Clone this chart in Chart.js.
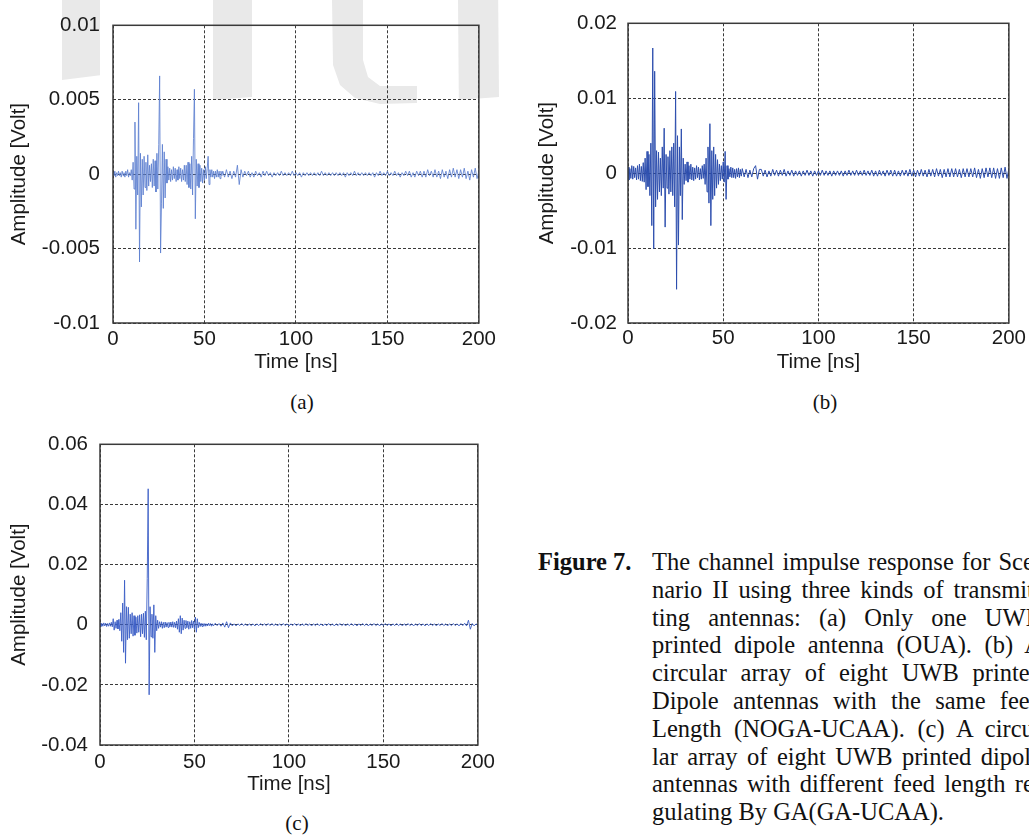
<!DOCTYPE html>
<html>
<head>
<meta charset="utf-8">
<script src="https://cdn.jsdelivr.net/npm/chart.js@4.4.1/dist/chart.umd.min.js"></script>
<style>
  html, body { margin: 0; padding: 0; background: #fff; width: 1029px; height: 837px; overflow: hidden; }
  .wm { position: absolute; background: #e9e9e9; z-index: 0; }
  canvas { position: absolute; z-index: 1; }
  .sub { position: absolute; z-index: 2; font: 21px "Liberation Serif", "Times New Roman", serif; color: #111; transform: translate(-50%, -50%); }
  #caption { position: absolute; left: 538px; top: 548px; font: 24.5px/27.8px "Liberation Serif", "Times New Roman", serif; color: #111; z-index: 2; }
  #caption .fig { position: absolute; left: 0; top: 0; font-weight: bold; white-space: nowrap; }
  #caption .lines { position: absolute; left: 114px; top: 0; width: 390px; }
  #caption .lines div { text-align: justify; text-align-last: justify; white-space: nowrap; }
  #caption .lines div.last { text-align-last: left; }
</style>
</head>
<body>
<div class="wm" style="left:62px;top:0;width:38px;height:80px;clip-path:polygon(0 0,100% 0,100% 94%,0 100%)"></div>
<div class="wm" style="left:213px;top:0;width:39px;height:100px;clip-path:polygon(0 0,100% 0,100% 97%,0 100%)"></div>
<div class="wm" style="left:332px;top:0;width:85px;height:104px;clip-path:polygon(0 0,31px 0,31px 60px,36px 77px,48px 86px,85px 86px,85px 103px,48px 104px,23px 98px,8px 85px,1px 65px)"></div>
<div class="wm" style="left:458px;top:0;width:41px;height:100px;clip-path:polygon(0 0,98% 0,100% 97%,2% 100%)"></div>

<canvas id="chartA" width="500" height="380" style="left:0;top:0"></canvas>
<canvas id="chartB" width="509" height="380" style="left:520px;top:0"></canvas>
<canvas id="chartC" width="500" height="380" style="left:0;top:420px"></canvas>

<div class="sub" style="left:302px;top:402px">(a)</div>
<div class="sub" style="left:825px;top:402px">(b)</div>
<div class="sub" style="left:297px;top:823px">(c)</div>

<div id="caption">
  <div class="fig">Figure 7.</div>
  <div class="lines">
    <div>The channel impulse response for Sce-</div>
    <div>nario II using three kinds of transmit-</div>
    <div>ting antennas: (a) Only one UWB</div>
    <div>printed dipole antenna (OUA). (b) A</div>
    <div>circular array of eight UWB printed</div>
    <div>Dipole antennas with the same feed</div>
    <div>Length (NOGA-UCAA). (c) A circu-</div>
    <div>lar array of eight UWB printed dipole</div>
    <div>antennas with different feed length re-</div>
    <div class="last">gulating By GA(GA-UCAA).</div>
  </div>
</div>

<script>
// amplitudes in units of 0.1 mV
const UNIT = 1e-4;
// 0 - 59.5 ns sampled every 0.5 ns, 60 - 200 ns every 1 ns
const EARLY_STEP = 0.5;
const LATE_START = 60;
const LATE_STEP = 1;

const xTickVals = [0, 50, 100, 150, 200];
const xTickLabels = ["0", "50", "100", "150", "200"];

const yTickValsA = [-0.01, -0.005, 0, 0.005, 0.01];
const yTickLabelsA = ["-0.01", "-0.005", "0", "0.005", "0.01"];
const yTickValsB = [-0.02, -0.01, 0, 0.01, 0.02];
const yTickLabelsB = ["-0.02", "-0.01", "0", "0.01", "0.02"];
const yTickValsC = [-0.04, -0.02, 0, 0.02, 0.04, 0.06];
const yTickLabelsC = ["-0.04", "-0.02", "0", "0.02", "0.04", "0.06"];

// (a) OUA
const earlyA = [
  1, -1, 2, -2, 1, -1, 2, -1, 1, -2,
  2, -1, 1, -2, 2, -1, 3, -2, 1, -1,
  3, -4, 8, -10, 35, -37, 12, -14, 48, -59,
  14, -22, 10, -14, 12, -9, 8, -11, 13, -8,
  6, -5, 7, -9, 10, -8, 9, -12, 14, -10,
  20, 66, -53, -20, 20, -23, 15, -16, 10, -6,
  5, -4, 4, -5, 3, -4, 5, -3, 4, -5,
  3, -4, 5, -3, 4, -5, 3, -4, 6, -5,
  6, -7, 8, -9, 7, -10, 12, -14, 24, 57,
  -30, 10, -8, 7, -9, 6, -5, 4, -6, 3,
  -4, 5, -3, 4, 12, -7, 3, -2, 3, -2,
  2, -3, 2, -2, 3, -2, 2, -3, 2, -1,
];
const lateA = [
  2, -2, 3, -2, 2, -3, 2, -2, 6, -7,
  3, -2, 2, -1, 2, -2, 1, -2, 2, -1,
  1, -2, 2, -1, 2, -1, 1, -2, 1, -1,
  1, -1, 2, -1, 1, -1, 1, -1, 2, -1,
  1, -1, 1, -2, 1, -1, 1, -1, 1, -1,
  1, -1, 1, -1, 2, -1, 1, -1, 1, -1,
  1, -1, 1, -1, 1, -1, 1, -2, 1, -1,
  1, -1, 2, -1, 1, -1, 1, -1, 1, -1,
  1, -1, 1, -2, 1, -1, 2, -1, 1, -1,
  2, -1, 1, -1, 2, -1, 1, -2, 1, -1,
  2, -1, 2, -2, 1, -2, 2, -1, 2, -2,
  2, -2, 3, -1, 2, -2, 3, -2, 2, -3,
  3, -2, 2, -3, 3, -2, 4, -2, 3, -3,
  3, -2, 4, -3, 2, -4, 3, -2, 4, -3,
  2,
];

// (b) NOGA-UCAA
const earlyB = [
  8, -9, 6, -7, 10, -8, 9, -6, 7, -9,
  10, -8, 12, -10, 9, -11, 14, -12, 20, -22,
  29, -18, 25, -30, 40, -70, 167, -101, 136, -45,
  30, -35, 28, -25, 20, -30, 35, -20, 60, -72,
  25, -20, 22, -28, 30, -25, 35, -30, 40, -45,
  109, -155, 50, -96, 35, -30, 59, -62, 20, -15,
  12, -10, 15, -12, 10, -8, 12, -9, 8, -10,
  7, -8, 10, -6, 8, -9, 6, -8, 10, -7,
  12, -15, 20, -25, 35, -40, 66, -70, 30, -35,
  35, -30, 25, -20, 18, -15, 12, -10, 10, -8,
  15, -12, 29, -35, 10, -8, 6, -5, 8, -6,
  7, -6, 5, -7, 6, -5, 7, -6, 5, -4,
];
const lateB = [
  6, -5, 5, -6, 4, -5, 6, 10, -8, 5,
  5, -4, 4, -5, 3, -4, 5, -3, 4, -4,
  4, -3, 5, -4, 3, -3, 4, -4, 3, -3,
  3, -4, 3, -3, 4, -3, 3, -4, 3, -3,
  3, -3, 4, -3, 3, -3, 3, -4, 3, -3,
  3, -3, 3, -4, 3, -3, 4, -3, 3, -3,
  4, -3, 3, -3, 4, -3, 3, -3, 4, -4,
  3, -4, 4, -3, 3, -4, 4, -3, 4, -4,
  4, -4, 3, -4, 4, -3, 4, -4, 5, -4,
  4, -5, 4, -4, 5, -4, 4, -5, 5, -4,
  5, -5, 6, -4, 5, -6, 5, -5, 6, -5,
  6, -5, 6, -5, 5, -6, 6, -5, 6, -5,
  6, -5, 7, -6, 5, -7, 6, -6, 7, -5,
  7, -6, 7, -7, 6, -7, 7, -6, 8, -7,
  6,
];

// (c) GA-UCAA
const earlyC = [
  5, -6, 4, -5, 6, -4, 5, -6, 4, -5,
  6, -5, 8, -7, 20, -18, 10, -12, 15, -14,
  18, -20, 40, -55, 72, -92, 148, -128, 60, -50,
  58, -45, 35, -30, 40, -38, 30, -35, 25, -28,
  30, -25, 33, -40, 35, -30, 38, -42, 45, -50,
  154, 452, -233, 60, -40, 35, -45, 66, -92, 30,
  -20, 15, -12, 10, -8, 10, -12, 8, -10, 9,
  -8, 7, -9, 8, -7, 9, -8, 10, -9, 8,
  -10, 12, -15, 20, -25, 30, -30, 22, -18, 15,
  -12, 14, -10, 12, -15, 10, -12, 14, -10, 12,
  -15, 25, -25, 20, -10, 8, -6, 5, -6, 4,
  -5, 4, -5, 3, -4, 5, -3, 4, -5, 3,
];
const lateC = [
  -4, 5, -3, 4, -5, 6, -8, 10, -10, 6,
  -4, 3, -4, 3, -3, 4, -3, 3, -4, 3,
  -3, 3, -4, 3, -3, 4, -3, 3, -3, 4,
  -3, 4, -3, 3, -4, 3, -3, 4, -3, 3,
  -4, 3, -3, 4, -3, 3, -4, 3, -3, 4,
  -3, 3, -4, 3, -3, 4, -3, 3, -4, 3,
  -3, 4, -3, 3, -4, 3, -3, 4, -3, 3,
  -4, 3, -3, 4, -3, 3, -4, 3, -3, 4,
  -3, 3, -4, 3, -3, 4, -3, 3, -4, 3,
  -3, 4, -3, 3, -4, 3, -3, 4, -3, 3,
  -4, 3, -3, 4, -3, 3, -4, 3, -3, 4,
  -3, 3, -4, 3, -3, 4, -3, 3, -4, 3,
  -3, 4, -3, 3, -4, 3, -3, 4, -3, 3,
  -4, 4, -3, 5, -4, 15, -15, 4, -4, 3,
  -3,
];

function toPoints(early, late) {
  const pts = [];
  early.forEach((v, i) => pts.push({ x: i * EARLY_STEP, y: v * UNIT }));
  late.forEach((v, j) => pts.push({ x: LATE_START + j * LATE_STEP, y: v * UNIT }));
  return pts;
}

const frame = {
  id: "frame",
  afterDraw(chart) {
    const { ctx, chartArea: a } = chart;
    ctx.save();
    ctx.strokeStyle = "#3a3a3a";
    ctx.lineWidth = 1.5;
    ctx.strokeRect(a.left, a.top, a.right - a.left, a.bottom - a.top);
    ctx.restore();
  },
};

const FONT = "'Liberation Sans', Arial, sans-serif";
const FSIZE = 20.5;

function makeChart(id, o) {
  const gridDash = { display: false, dash: [3, 2] };
  return new Chart(document.getElementById(id), {
    type: "line",
    data: {
      datasets: [{
        data: toPoints(o.early, o.late),
        borderColor: o.color,
        borderWidth: o.width,
        pointRadius: 0,
        tension: 0,
        fill: false,
      }],
    },
    options: {
      responsive: false,
      animation: false,
      events: [],
      layout: { padding: { top: o.top, right: o.right, left: 0, bottom: 0 } },
      plugins: { legend: { display: false }, tooltip: { enabled: false } },
      scales: {
        x: {
          type: "linear",
          min: 0,
          max: 200,
          afterBuildTicks: (s) => { s.ticks = xTickVals.map((v) => ({ value: v })); },
          afterFit: (s) => { s.height = o.xHeight; },
          ticks: {
            callback: (v, i) => xTickLabels[i],
            color: "#1a1a1a",
            padding: o.xPad,
            maxRotation: 0,
            font: { family: FONT, size: FSIZE },
          },
          grid: { color: "#3a3a3a", lineWidth: 1, drawTicks: false },
          border: gridDash,
          title: {
            display: true,
            text: "Time [ns]",
            color: "#1a1a1a",
            font: { family: FONT, size: FSIZE },
            padding: { top: 0, bottom: o.xTitlePad },
          },
        },
        y: {
          type: "linear",
          min: o.yVals[0],
          max: o.yVals[o.yVals.length - 1],
          afterBuildTicks: (s) => { s.ticks = o.yVals.map((v) => ({ value: v })); },
          afterFit: (s) => { s.width = o.yWidth; },
          ticks: {
            callback: (v, i) => o.yLabels[i],
            color: "#1a1a1a",
            padding: o.yPad,
            font: { family: FONT, size: FSIZE },
          },
          grid: { color: "#3a3a3a", lineWidth: 1, drawTicks: false },
          border: gridDash,
          title: {
            display: true,
            text: "Amplitude [Volt]",
            color: "#1a1a1a",
            font: { family: FONT, size: FSIZE },
            padding: { top: o.yTitlePad, bottom: 0 },
          },
        },
      },
    },
    plugins: [frame],
  });
}

makeChart("chartA", {
  early: earlyA, late: lateA, color: "#5d7fd0", width: 0.85,
  yVals: yTickValsA, yLabels: yTickLabelsA,
  top: 18, right: 19, yWidth: 113, xHeight: 57,
  xPad: 4, yPad: 13, xTitlePad: 5, yTitlePad: 7,
});
makeChart("chartB", {
  early: earlyB, late: lateB, color: "#2e4fae", width: 1,
  yVals: yTickValsB, yLabels: yTickLabelsB,
  top: 18, right: 20, yWidth: 108, xHeight: 57,
  xPad: 3, yPad: 11, xTitlePad: 5, yTitlePad: 15,
});
makeChart("chartC", {
  early: earlyC, late: lateC, color: "#3c5fc6", width: 0.9,
  yVals: yTickValsC, yLabels: yTickLabelsC,
  top: 19, right: 19, yWidth: 100, xHeight: 55,
  xPad: 5, yPad: 12, xTitlePad: 3, yTitlePad: 7,
});
</script>
</body>
</html>
